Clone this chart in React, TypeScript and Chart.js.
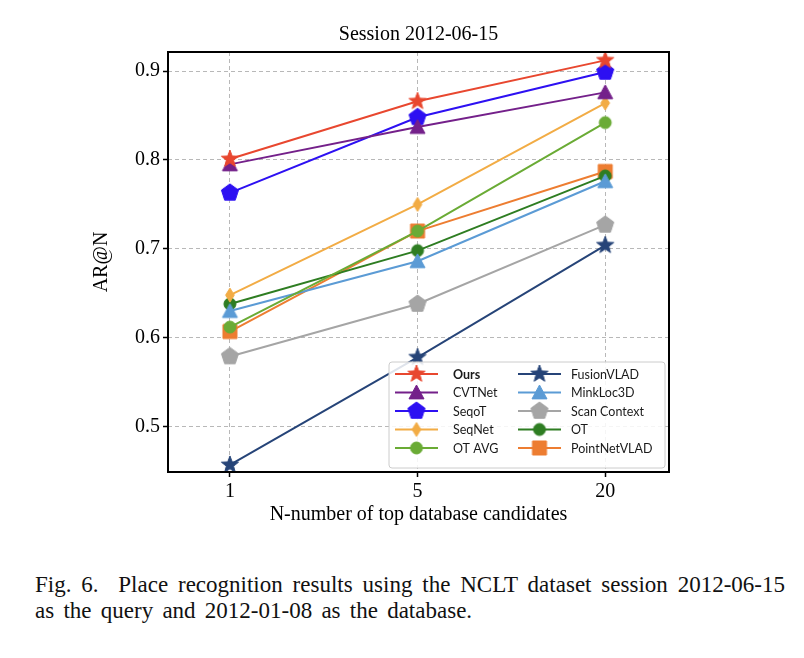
import React, { useEffect, useRef } from "react";
import { Chart, registerables } from "chart.js";

Chart.register(...registerables);

const TITLE = "Session 2012-06-15";
const X_TITLE = "N-number of top database candidates";
const Y_TITLE = "AR@N";
const X_LABELS = ["1", "5", "20"];
const Y_TICKS = [0.5, 0.6, 0.7, 0.8, 0.9];

const SERIES_NAMES = ["Ours", "CVTNet", "SeqoT", "SeqNet", "OT AVG", "FusionVLAD", "MinkLoc3D", "Scan Context", "OT", "PointNetVLAD"];
const OURS = [0.801, 0.866, 0.912];
const CVTNET = [0.795, 0.837, 0.876];
const SEQOT = [0.763, 0.848, 0.899];
const SEQNET = [0.648, 0.750, 0.864];
const OT_AVG = [0.612, 0.720, 0.842];
const FUSIONVLAD = [0.457, 0.578, 0.704];
const MINKLOC3D = [0.630, 0.686, 0.776];
const SCAN_CONTEXT = [0.579, 0.638, 0.727];
const OT = [0.638, 0.698, 0.782];
const POINTNETVLAD = [0.607, 0.720, 0.787];
const SERIES_VALUES = [OURS, CVTNET, SEQOT, SEQNET, OT_AVG, FUSIONVLAD, MINKLOC3D, SCAN_CONTEXT, OT, POINTNETVLAD];

const COLORS = ["#e8472f", "#74208a", "#2d10f2", "#f2ac45", "#6aab35", "#264478", "#5b9bd5", "#a5a5a5", "#2e7d22", "#ed7d31"];
const SHAPES = ["star", "triangle", "pentagon", "diamond", "circle", "star", "triangle", "pentagon", "circle", "square"];
const SIZES = [9, 7.5, 9, 7, 6, 9, 7.5, 9, 6, 7];

const CAPTION_1 = "Fig. 6.\u00a0 Place recognition results using the NCLT dataset session 2012-06-15";
const CAPTION_2 = "as the query and 2012-01-08 as the database.";

function makeMarker(shape: string, color: string, r: number): HTMLCanvasElement {
  const s = Math.ceil(r * 2 + 4);
  const c = document.createElement("canvas");
  c.width = s;
  c.height = s;
  const ctx = c.getContext("2d")!;
  ctx.translate(s / 2, s / 2);
  ctx.fillStyle = color;
  ctx.strokeStyle = color;
  ctx.lineWidth = 1;
  ctx.beginPath();
  if (shape === "star") {
    for (let i = 0; i < 10; i++) {
      const a = -Math.PI / 2 + (i * Math.PI) / 5;
      const rad = i % 2 ? r * 0.42 : r;
      const x = Math.cos(a) * rad;
      const y = Math.sin(a) * rad;
      if (i === 0) ctx.moveTo(x, y);
      else ctx.lineTo(x, y);
    }
  } else if (shape === "triangle") {
    ctx.moveTo(0, -r);
    ctx.lineTo(r, r * 0.85);
    ctx.lineTo(-r, r * 0.85);
  } else if (shape === "pentagon") {
    for (let i = 0; i < 5; i++) {
      const a = -Math.PI / 2 + (i * 2 * Math.PI) / 5;
      const x = Math.cos(a) * r;
      const y = Math.sin(a) * r;
      if (i === 0) ctx.moveTo(x, y);
      else ctx.lineTo(x, y);
    }
  } else if (shape === "diamond") {
    ctx.moveTo(0, -r);
    ctx.lineTo(r * 0.62, 0);
    ctx.lineTo(0, r);
    ctx.lineTo(-r * 0.62, 0);
  } else if (shape === "circle") {
    ctx.arc(0, 0, r, 0, Math.PI * 2);
  } else {
    ctx.rect(-r, -r, 2 * r, 2 * r);
  }
  ctx.closePath();
  ctx.fill();
  ctx.stroke();
  return c;
}

export default function App() {
  const ref = useRef<HTMLCanvasElement>(null);

  useEffect(() => {
    const canvas = ref.current;
    if (!canvas) return;
    const markers = SERIES_NAMES.map((_, i) => makeMarker(SHAPES[i], COLORS[i], SIZES[i]));

    const framePlugin = {
      id: "frameAndLegend",
      afterDatasetsDraw(chart: any) {
        const { ctx, chartArea: ca } = chart;
        ctx.save();
        ctx.strokeStyle = "#000";
        ctx.lineWidth = 2;
        ctx.strokeRect(ca.left, ca.top, ca.right - ca.left, ca.bottom - ca.top);
        ctx.restore();
      },
      afterDraw(chart: any) {
        const { ctx, chartArea: ca } = chart;
        const bw = 276;
        const bh = 106;
        const bx = ca.right - 4 - bw;
        const by = ca.bottom - 4 - bh;
        ctx.save();
        ctx.beginPath();
        ctx.roundRect(bx, by, bw, bh, 3);
        ctx.fillStyle = "rgba(255,255,255,0.85)";
        ctx.fill();
        ctx.strokeStyle = "#cccccc";
        ctx.lineWidth = 1;
        ctx.stroke();
        const rowH = 18.5;
        const colX = [bx + 6, bx + 129];
        const textOff = [58, 53];
        for (let i = 0; i < SERIES_NAMES.length; i++) {
          const col = Math.floor(i / 5);
          const row = i % 5;
          const x0 = colX[col];
          const y = by + 12 + row * rowH;
          ctx.strokeStyle = COLORS[i];
          ctx.lineWidth = 1.8;
          ctx.beginPath();
          ctx.moveTo(x0, y);
          ctx.lineTo(x0 + 43, y);
          ctx.stroke();
          const m = markers[i];
          ctx.drawImage(m, x0 + 21.5 - m.width / 2, y - m.height / 2);
          ctx.fillStyle = "#1a1a1a";
          ctx.font = (i === 0 ? "bold " : "") + "12.5px Lato, 'Open Sans', sans-serif";
          ctx.textBaseline = "middle";
          ctx.textAlign = "left";
          ctx.fillText(SERIES_NAMES[i], x0 + textOff[col], y + 0.5);
        }
        ctx.restore();
      },
    };

    const chart = new Chart(canvas, {
      type: "line",
      data: {
        datasets: SERIES_NAMES.map((name, i) => ({
          label: name,
          data: SERIES_VALUES[i].map((v, j) => ({ x: j, y: v })),
          borderColor: COLORS[i],
          backgroundColor: COLORS[i],
          borderWidth: 2,
          pointStyle: markers[i] as any,
          pointRadius: SIZES[i],
          tension: 0,
          fill: false,
        })),
      },
      options: {
        animation: false,
        responsive: false,
        events: [],
        font: { family: "'Liberation Serif', 'Times New Roman', serif" } as any,
        layout: { padding: { left: 0, right: 135, top: 0, bottom: 0 } },
        plugins: {
          legend: { display: false },
          tooltip: { enabled: false },
          title: {
            display: true,
            fullSize: false,
            text: TITLE,
            color: "#000",
            font: { family: "'Liberation Serif', serif", size: 20, weight: "normal" as any, lineHeight: 1.2 },
            padding: { top: 23, bottom: 5 },
          },
        },
        scales: {
          x: {
            type: "linear",
            min: -0.33,
            max: 2.34,
            afterBuildTicks: (axis: any) => {
              axis.ticks = X_LABELS.map((_, i) => ({ value: i }));
            },
            afterFit: (axis: any) => {
              axis.height = 68;
            },
            ticks: {
              color: "#000",
              font: { family: "'Liberation Serif', serif", size: 20 },
              padding: 3,
              maxRotation: 0,
              callback: (v: any) => X_LABELS[Number(v)] ?? "",
            },
            grid: {
              color: "#b8b8b8",
              lineWidth: 1,
              drawTicks: true,
              tickLength: 5,
              tickColor: "#000",
              tickWidth: 1.5,
            },
            border: { display: false, dash: [4, 3] },
            title: {
              display: true,
              text: X_TITLE,
              color: "#000",
              font: { family: "'Liberation Serif', serif", size: 20, lineHeight: 1.2 },
              padding: { top: 0, bottom: 13 },
            },
          },
          y: {
            type: "linear",
            min: 0.449,
            max: 0.9214,
            afterBuildTicks: (axis: any) => {
              axis.ticks = Y_TICKS.map((v) => ({ value: v }));
            },
            afterFit: (axis: any) => {
              axis.width = 168;
            },
            ticks: {
              color: "#000",
              font: { family: "'Liberation Serif', serif", size: 20 },
              padding: 3,
              callback: (v: any) => Number(v).toFixed(1),
            },
            grid: {
              color: "#b8b8b8",
              lineWidth: 1,
              drawTicks: true,
              tickLength: 5,
              tickColor: "#000",
              tickWidth: 1.5,
            },
            border: { display: false, dash: [4, 3] },
            title: {
              display: true,
              text: Y_TITLE,
              color: "#000",
              font: { family: "'Liberation Serif', serif", size: 20, lineHeight: 1.2 },
              padding: { top: 90, bottom: 0 },
            },
          },
        },
      },
      plugins: [framePlugin],
    } as any);

    return () => chart.destroy();
  }, []);

  return (
    <div style={{ position: "absolute", left: 0, top: 0, width: 804, height: 658, background: "#fff" }}>
      <canvas ref={ref} width={804} height={540} style={{ position: "absolute", left: 0, top: 0, display: "block" }} />
      <div
        style={{
          position: "absolute",
          left: 35,
          top: 572,
          width: 750,
          fontFamily: "'Liberation Serif', 'Times New Roman', serif",
          fontSize: 23,
          lineHeight: "26px",
          color: "#111",
        }}
      >
        <div style={{ textAlign: "justify", textAlignLast: "justify", whiteSpace: "nowrap" }}>{CAPTION_1}</div>
        <div style={{ textAlign: "left", wordSpacing: "3.5px" }}>{CAPTION_2}</div>
      </div>
    </div>
  );
}
